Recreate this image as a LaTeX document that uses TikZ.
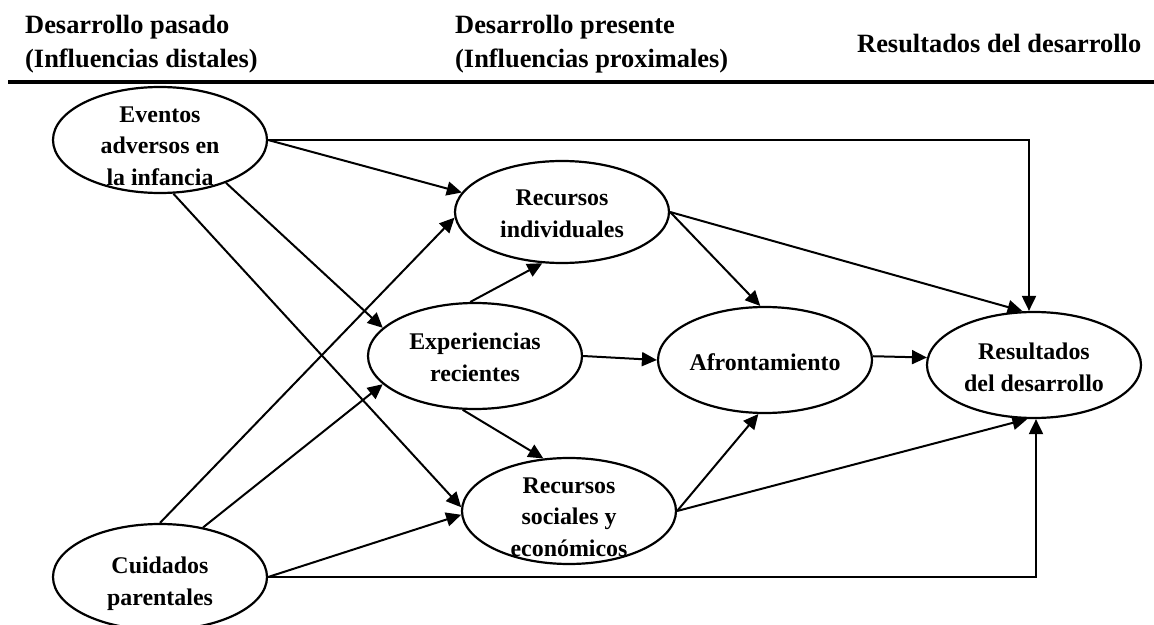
\documentclass[tikz,border=0pt]{standalone}
\usepackage{fontspec}
\setmainfont{Liberation Serif}
\usetikzlibrary{shapes.geometric,arrows.meta}
% invisible strut that lowers a node's text block by raising its first line's height
\newcommand\ovaltop[1]{\rule{0pt}{#1}}
\begin{document}
\begin{tikzpicture}[x=1bp,y=-1bp,
  oval/.style={ellipse, draw, line width=2.2bp, minimum width=214bp, minimum height=106bp,
    inner xsep=0pt, inner ysep=-20bp, align=center,
    font=\fontsize{24}{32}\selectfont\bfseries},
  head/.style={anchor=base west, inner sep=0pt, font=\fontsize{26.5}{34}\selectfont\bfseries},
  link/.style={line width=2bp, -{Triangle[length=15bp,width=14bp]}},
  rulebar/.style={line width=3.5bp}]
\useasboundingbox (0,0) rectangle (1154,625);

% column headings
\node[head] (h1a) at (25,34) {Desarrollo pasado};
\node[head] (h1b) at (25,68) {(Influencias distales)};
\node[head] (h2a) at (455,34) {Desarrollo presente};
\node[head] (h2b) at (455,68) {(Influencias proximales)};
\node[head] (h3)  at (857,53) {Resultados del desarrollo};

% heading rule
\coordinate (ruleL) at (8,82);
\coordinate (ruleR) at (1154,82);
\draw[rulebar] (ruleL) -- (ruleR);

% constructs
\node[oval] (ev) at (160,140) {\ovaltop{28bp}Eventos\\adversos en\\la infancia};
\node[oval, minimum height=102bp] (ri) at (562,212) {\ovaltop{20bp}Recursos\\individuales};
\node[oval] (ex) at (475,356) {\ovaltop{20bp}Experiencias\\recientes};
\node[oval] (af) at (765,360) {\ovaltop{22bp}Afrontamiento};
\node[oval] (rs) at (1034,365) {\ovaltop{21bp}Resultados\\del desarrollo};
\node[oval] (so) at (569,511) {\ovaltop{28bp}Recursos\\sociales y\\económicos};
\node[oval] (cu) at (160,577) {\ovaltop{30bp}Cuidados\\parentales};

% paths of influence
\draw[link] (ev.east) -| ([xshift=-5bp]rs.north);
\draw[link] (ev.east) -- (ri.169);
\draw[link] (ev.-33) -- (ex.163);
\draw[link] (ev.-76) -- (so.178);
\draw[link] (cu.north) -- (ri.183);
\draw[link] (cu.49) -- (ex.197);
\draw[link] (cu.east) -- (so.182);
\draw[link] (cu.east) -| ([xshift=2bp]rs.south);
\draw[link] (ex.95) -- (ri.249);
\draw[link] (ex.east) -- (af.west);
\draw[link] (ex.257) -- (so.116);
\draw[link] (ri.east) -- (af.95);
\draw[link] (ri.east) -- (rs.102);
\draw[link] (af.2) -- (rs.176);
\draw[link] (so.east) -- (af.263);
\draw[link] (so.east) -- (rs.263);
\end{tikzpicture}
\end{document}
